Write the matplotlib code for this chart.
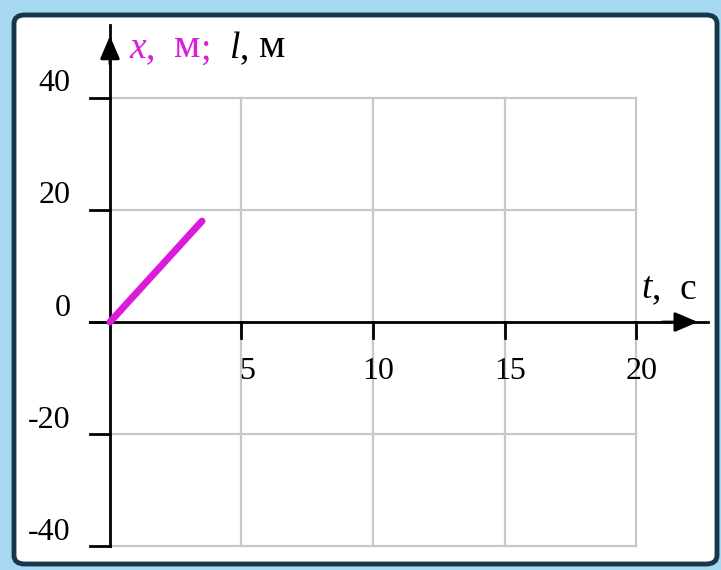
import matplotlib.pyplot as plt
from matplotlib.patches import FancyBboxPatch

# motion data: coordinate vs time
t = [0, 3.5]
x = [0, 18]

xticks = [5, 10, 15, 20]
yticks = [-40, -20, 0, 20, 40]
ygrid = [-40, -20, 20, 40]

plt.rcParams['font.family'] = ['Liberation Serif', 'DejaVu Serif']
fs = 23
lfs = 27
mfs = 30
magenta = '#dc1adc'
grid_c = '#c8c8c8'

fig = plt.figure(figsize=(7.21, 5.70), dpi=100)
fig.patch.set_facecolor('#a6d8f1')

# white panel with dark rounded border
W, H = 721, 570
panel = FancyBboxPatch((14 / W, 6 / H), (717 - 14) / W, (564 - 15) / H,
                       boxstyle='round,pad=0,rounding_size=0.015',
                       transform=fig.transFigure, fc='white', ec='#17384c', lw=3.5,
                       zorder=-10)
fig.patches.append(panel)

ax = fig.add_axes([0, 0, 1, 1])
ax.set_xlim(-4.18, 23.23)
ax.set_ylim(-44.2, 57.4)
ax.axis('off')
ax.patch.set_alpha(0)

# grid
for v in xticks:
    ax.plot([v, v], [-40, 40], color=grid_c, lw=1.6, zorder=1)
for h in ygrid:
    ax.plot([0, 20], [h, h], color=grid_c, lw=1.6, zorder=1)

# axes with arrows
head = '-|>,head_length=0.7,head_width=0.3'
ax.plot([0, 0], [-40, 53], color='black', lw=2, zorder=3)
ax.annotate('', xy=(0, 51), xytext=(0, 46),
            arrowprops=dict(arrowstyle=head, color='black', lw=2,
                            mutation_scale=20, shrinkA=0, shrinkB=0), zorder=3)
ax.plot([-0.75, 22.75], [0, 0], color='black', lw=2, zorder=3)
ax.annotate('', xy=(22.35, 0), xytext=(21, 0),
            arrowprops=dict(arrowstyle=head, color='black', lw=2,
                            mutation_scale=20, shrinkA=0, shrinkB=0), zorder=3)

# tick marks
for v in yticks:
    ax.plot([-0.76, 0], [v, v], color='black', lw=2, zorder=3)
for v in xticks:
    ax.plot([v, v], [0, -2.9], color='black', lw=2, zorder=3)

# tick labels
for v in yticks:
    ax.text(-1.5, v + 2.5, str(v), ha='right', va='center', fontsize=fs)
for v in xticks:
    ax.text(v + 0.2, -8.8, str(v), ha='center', va='center', fontsize=fs)

# axis labels
lbl = ax.text(0.75, 47.0, 'x', color=magenta, style='italic', fontsize=lfs, va='baseline')
part = ax.annotate(',  ', xy=(1, 0), xycoords=lbl, color=magenta, fontsize=lfs, va='bottom')
part = ax.annotate('м', xy=(1, 0), xycoords=part, color=magenta, fontsize=mfs, va='bottom')
part = ax.annotate(';  ', xy=(1, 0), xycoords=part, color=magenta, fontsize=lfs, va='bottom')
part = ax.annotate('l', xy=(1, 0), xycoords=part, style='italic', fontsize=lfs, va='bottom')
part = ax.annotate(', ', xy=(1, 0), xycoords=part, fontsize=lfs, va='bottom')
ax.annotate('м', xy=(1, 0), xycoords=part, fontsize=mfs, va='bottom')

tl = ax.text(20.2, 4.2, 't', style='italic', fontsize=lfs, va='baseline')
ax.annotate(',  с', xy=(1, 0), xycoords=tl, fontsize=lfs, va='bottom')

# x(t)
ax.plot(t, x, color=magenta, lw=5, solid_capstyle='round', zorder=4)

fig.savefig('out.png', dpi=100)
